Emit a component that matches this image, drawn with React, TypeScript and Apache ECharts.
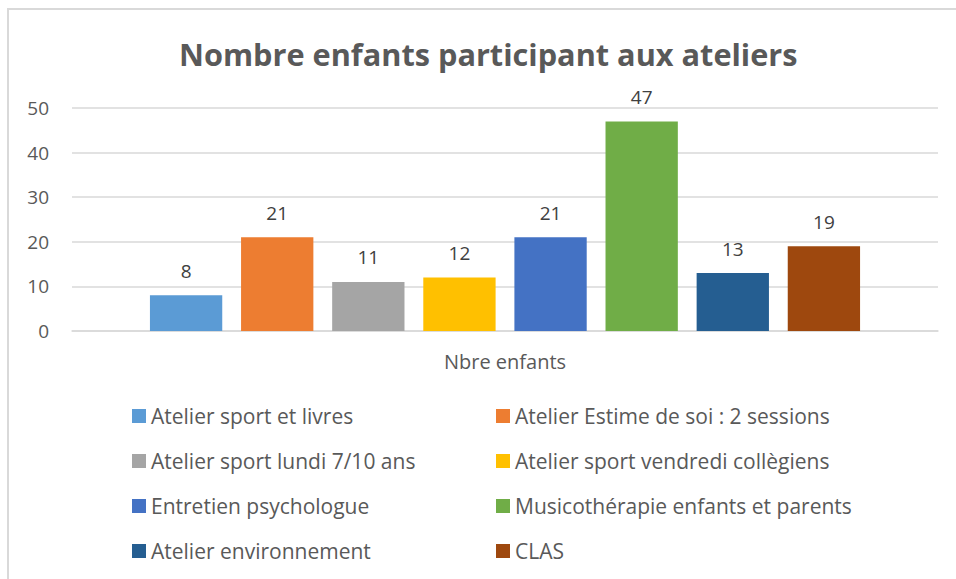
import React, { useEffect, useRef } from "react";
import * as echarts from "echarts";

const categories = ["Nbre enfants"];
const seriesNames = [
  "Atelier sport et livres",
  "Atelier Estime de soi : 2 sessions",
  "Atelier sport lundi 7/10 ans",
  "Atelier sport vendredi collègiens",
  "Entretien psychologue",
  "Musicothérapie enfants et parents",
  "Atelier environnement",
  "CLAS",
];
const seriesValues = [8, 21, 11, 12, 21, 47, 13, 19];
const seriesColors = ["#5B9BD5", "#ED7D31", "#A5A5A5", "#FFC000", "#4472C4", "#70AD47", "#255E91", "#9E480E"];
const yTicks = { min: 0, max: 50, interval: 10 };

const FONT = "'Open Sans', 'Noto Sans', sans-serif";

export default function App() {
  const ref = useRef<HTMLDivElement>(null);
  useEffect(() => {
    if (!ref.current) return;
    const chart = echarts.init(ref.current, undefined, { renderer: "svg" });
    const legendText = { color: "#595959", fontSize: 21, fontFamily: FONT, lineHeight: 22 };
    chart.setOption({
      animation: false,
      backgroundColor: "#ffffff",
      title: {
        text: "Nombre enfants participant aux ateliers",
        left: 174,
        top: 33,
        textStyle: { color: "#595959", fontSize: 30.7, fontWeight: "bold", fontFamily: FONT },
      },
      grid: { left: 72, right: 18, top: 108, bottom: 248, containLabel: false },
      xAxis: {
        type: "category",
        data: categories,
        axisLine: { lineStyle: { color: "#d9d9d9", width: 1.5 } },
        axisTick: { show: false },
        axisLabel: { color: "#595959", fontSize: 20, fontFamily: FONT, margin: 20 },
      },
      yAxis: {
        type: "value",
        min: yTicks.min,
        max: yTicks.max,
        interval: yTicks.interval,
        axisLine: { show: false },
        axisTick: { show: false },
        splitLine: { lineStyle: { color: "#d9d9d9", width: 1.5 } },
        axisLabel: { color: "#595959", fontSize: 19, fontFamily: FONT, margin: 23 },
      },
      legend: [
        {
          orient: "vertical",
          left: 127,
          top: 400,
          itemWidth: 14,
          itemHeight: 14,
          itemGap: 23,
          icon: "rect",
          textStyle: legendText,
          data: [seriesNames[0], seriesNames[2], seriesNames[4], seriesNames[6]],
        },
        {
          orient: "vertical",
          left: 491,
          top: 400,
          itemWidth: 14,
          itemHeight: 14,
          itemGap: 23,
          icon: "rect",
          textStyle: legendText,
          data: [seriesNames[1], seriesNames[3], seriesNames[5], seriesNames[7]],
        },
      ],
      graphic: [
        { type: "line", shape: { x1: 7, y1: 9, x2: 956, y2: 9 }, style: { stroke: "#d9d9d9", lineWidth: 2 } },
        { type: "line", shape: { x1: 8, y1: 8, x2: 8, y2: 579 }, style: { stroke: "#d9d9d9", lineWidth: 2 } },
      ],
      series: seriesNames.map((name, i) => ({
        name,
        type: "bar",
        data: [seriesValues[i]],
        itemStyle: { color: seriesColors[i] },
        barGap: "26%",
        barCategoryGap: "18%",
        label: {
          show: true,
          position: "top",
          distance: 15,
          color: "#404040",
          fontSize: 19,
          fontFamily: FONT,
        },
      })),
    });
    return () => chart.dispose();
  }, []);
  return (
    <div
      ref={ref}
      style={{ position: "fixed", left: 0, top: 0, width: 956, height: 579 }}
    />
  );
}
